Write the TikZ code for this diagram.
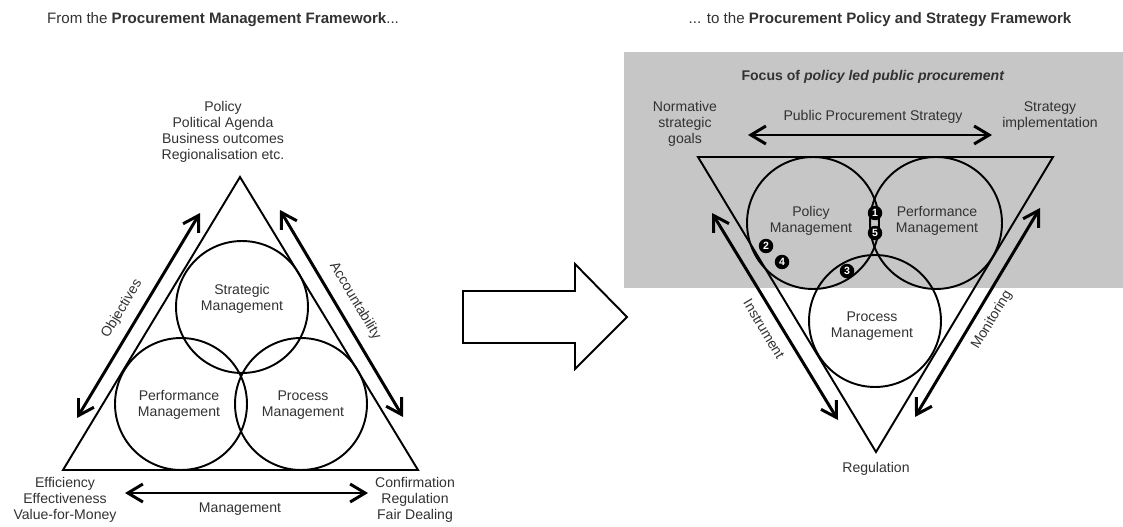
\documentclass[tikz,border=0pt]{standalone}
\usepackage{fontspec}
\setmainfont{Liberation Sans}
\usetikzlibrary{arrows.meta}
\usetikzlibrary{positioning}
\usetikzlibrary{calc}
\definecolor{mygray}{RGB}{198,198,198}
\definecolor{mytext}{RGB}{50,50,50}
\newcommand\mycircle[4]{%
  \node[mycircle] (#1) at (#2) {};
  \node[mylabel] (#1-txt) at (#3) {#4};
}
\newcommand\mymark[2]{%
  \node[mymark] (m#1) at (#2) {#1};
}

\begin{document}
\begin{tikzpicture}[x=0.02cm, y=-0.02cm,
>={Straight Barb[length=3mm,width=3.6mm]},
mylabel/.style={
  align=center,
  text=mytext,
  inner sep=1pt,
  font=\fontsize{8}{9}\selectfont},
mytitle/.style={
  mylabel,
  font=\fontsize{8.6}{10}\selectfont},
mycircle/.style={
  circle,
  draw,
  line width=1.1pt,
  minimum size=2.64cm,
  inner sep=0pt},
mymark/.style={
  circle,
  fill=black,
  text=white,
  inner sep=0pt,
  minimum size=0.29cm,
  font=\fontsize{6}{6}\selectfont\bfseries},
myline/.style={line width=1.1pt, line join=miter},
myarrow/.style={<->, line width=1.7pt}
]
\useasboundingbox (0,0) rectangle (1123,527);

% titles
\node[mytitle] (title-l) at (223,20) {From the \textbf{Procurement Management Framework}...};
\node[mytitle] (title-r) at (880,20) {... to the \textbf{Procurement Policy and Strategy Framework}};

% left: management triangle
\coordinate (lt) at (240,177);
\coordinate (ll) at (63,470);
\coordinate (lr) at (418,470);
\draw[myline] (lt) -- (ll) -- (lr) -- cycle;

\mycircle{strat}{242,307}{242,299}{Strategic\\Management}
\mycircle{perf}{181,404}{179,405}{Performance\\Management}
\mycircle{proc}{301,404}{303,405}{Process\\Management}

\node[mylabel] (top) at (223,132) {Policy\\Political Agenda\\Business outcomes\\Regionalisation etc.};
\node[mylabel] (eff) at (65,500) {Efficiency\\Effectiveness\\Value-for-Money};
\node[mylabel] (conf) at (415,500) {Confirmation\\Regulation\\Fair Dealing};

\coordinate (obj-a) at (77,418);
\coordinate (obj-b) at (200,213);
\coordinate (acc-a) at (280,210);
\coordinate (acc-b) at (403,417);
\coordinate (man-a) at (125,493);
\coordinate (man-b) at (368,493);
\draw[myarrow] (obj-a) -- (obj-b);
\draw[myarrow] (acc-a) -- (acc-b);
\draw[myarrow] (man-a) -- (man-b);
\node[mylabel, rotate=59] (obj) at (122,309) {Objectives};
\node[mylabel, rotate=-59] (acc) at (355,301) {Accountability};
\node[mylabel] (man) at (240,509) {Management};

% big arrow
\draw[myline] (463,291) -- (575,291) -- (575,264) -- (627,317) -- (575,369)
  -- (575,343) -- (463,343) -- cycle;

% right: policy and strategy framework
\fill[mygray] (624,52) rectangle (1123,288);
\node[mylabel] (focus) at (873,77) {\textbf{Focus of \textit{policy led public procurement}}};

\coordinate (rl) at (698,157);
\coordinate (rr) at (1053,157);
\coordinate (rb) at (876,452);
\draw[myline] (rl) -- (rr) -- (rb) -- cycle;

\mycircle{pol}{813,223}{811,221}{Policy\\Management}
\mycircle{rperf}{936,223}{937,221}{Performance\\Management}
\mycircle{rproc}{875,321}{872,326}{Process\\Management}

\mymark{1}{875,213} %1
\mymark{5}{875,233} %5
\mymark{2}{766,246} %2
\mymark{4}{782,262} %4
\mymark{3}{847,271} %3

\node[mylabel] (norm) at (685,124) {Normative\\strategic\\goals};
\node[mylabel] (impl) at (1050,116) {Strategy\\implementation};
\node[mylabel] (reg) at (876,469) {Regulation};

\coordinate (pps-a) at (748,135);
\coordinate (pps-b) at (992,135);
\coordinate (ins-a) at (712,213);
\coordinate (ins-b) at (838,420);
\coordinate (mon-a) at (1040,208);
\coordinate (mon-b) at (915,417);
\draw[myarrow] (pps-a) -- (pps-b);
\draw[myarrow] (ins-a) -- (ins-b);
\draw[myarrow] (mon-a) -- (mon-b);
\node[mylabel] (pps) at (873,117) {Public Procurement Strategy};
\node[mylabel, rotate=-59] (ins) at (764,329) {Instrument};
\node[mylabel, rotate=59] (mon) at (992,320) {Monitoring};

\end{tikzpicture}
\end{document}
